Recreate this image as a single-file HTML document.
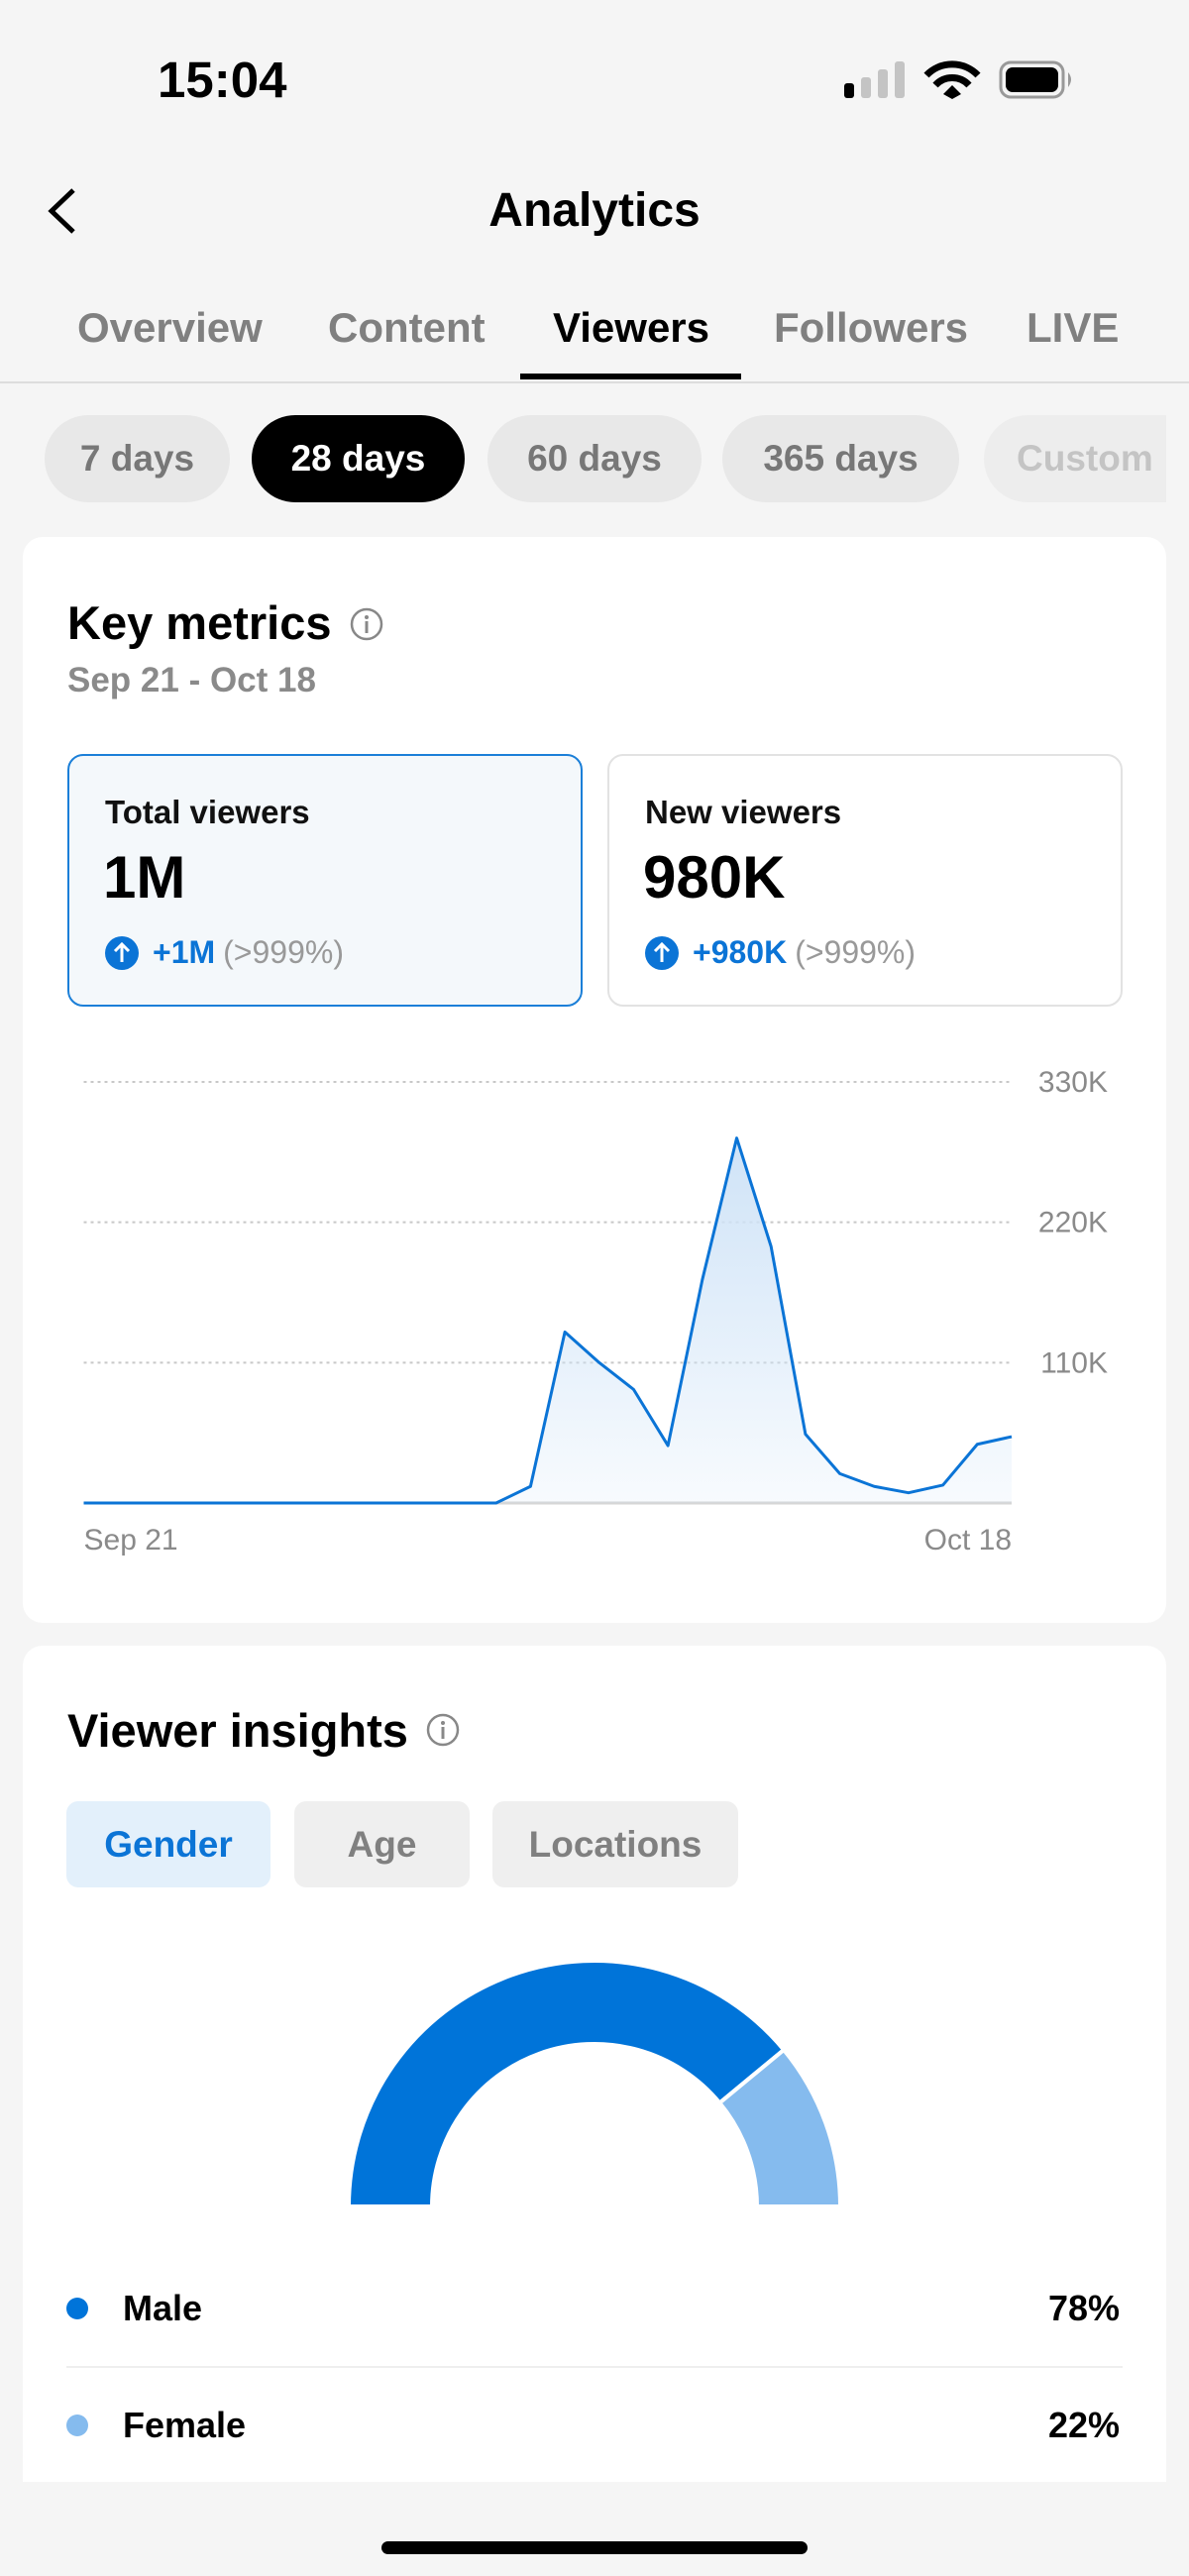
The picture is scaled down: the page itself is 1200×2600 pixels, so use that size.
<!DOCTYPE html>
<html><head><meta charset="utf-8">
<style>
*{box-sizing:border-box;margin:0;padding:0}
body{width:1200px;height:2600px;background:#f5f5f5;font-family:"Liberation Sans",sans-serif;position:relative;overflow:hidden;color:#000}
.abs{position:absolute}
.tab{position:absolute;top:307px;font-size:42px;font-weight:bold;color:#808080;white-space:nowrap}
.pill{position:absolute;top:419px;height:88px;border-radius:44px;background:#e8e8e8;color:#777;font-size:37px;font-weight:bold;display:flex;align-items:center;justify-content:center}
.card{position:absolute;background:#fff;border-radius:20px}
.mc{position:absolute;top:761px;height:255px;width:520px;border-radius:16px}
.mt{position:absolute;left:36px;top:38px;font-size:33px;font-weight:bold;color:#111}
.mv{position:absolute;left:34px;top:88px;font-size:60px;font-weight:bold}
.mch{position:absolute;left:36px;top:180px;font-size:32px;font-weight:bold;color:#0b74d6;display:flex;align-items:center}
.mch .g{color:#999;font-weight:normal;margin-left:8px}
.up{width:34px;height:34px;border-radius:50%;background:#0b74d6;margin-right:14px;position:relative}
.up svg{position:absolute;left:0;top:0}
.seg{position:absolute;top:1818px;height:87px;border-radius:12px;background:#efefef;color:#808080;font-size:37px;font-weight:bold;display:flex;align-items:center;justify-content:center}
.leg{position:absolute;font-size:36px;font-weight:bold}
</style></head><body>
<div class="abs" style="left:159px;top:51px;font-size:51px;font-weight:bold">15:04</div>
<svg class="abs" style="left:840px;top:55px" width="270" height="55" viewBox="840 55 270 55">
<rect x="852" y="84" width="10" height="15" rx="3" fill="#000"/>
<rect x="869" y="78" width="10" height="21" rx="3" fill="#c4c4c4"/>
<rect x="886" y="70" width="10" height="29" rx="3" fill="#c4c4c4"/>
<rect x="903" y="62" width="10" height="37" rx="3" fill="#c4c4c4"/>
<path d="M935 76 A36 36 0 0 1 987 76" stroke="#000" stroke-width="7" fill="none"/>
<path d="M944 86 A23 23 0 0 1 978 86" stroke="#000" stroke-width="7" fill="none"/>
<path d="M952 95 L961 86 L970 95 L961 100 Z" fill="#000"/>
<rect x="1010" y="63" width="63" height="35" rx="10" fill="none" stroke="#999" stroke-width="3"/>
<rect x="1015" y="68" width="53" height="25" rx="7" fill="#000"/>
<path d="M1078 73 Q1084 80 1078 88 Z" fill="#999"/>
</svg>
<svg class="abs" style="left:44px;top:188px" width="36" height="50"><path d="M30 4 L8 25 L30 46" stroke="#000" stroke-width="5" fill="none"/></svg>
<div class="abs" style="left:0;width:1200px;text-align:center;top:185px;font-size:48px;font-weight:bold">Analytics</div>
<div class="tab" style="left:78px">Overview</div>
<div class="tab" style="left:331px">Content</div>
<div class="tab" style="left:558px;color:#000">Viewers</div>
<div class="tab" style="left:781px">Followers</div>
<div class="tab" style="left:1036px">LIVE</div>
<div class="abs" style="left:525px;top:377px;width:223px;height:6px;background:#000"></div>
<div class="abs" style="left:0;top:385px;width:1200px;height:2px;background:#ddd"></div>
<div class="pill" style="left:45px;width:187px">7 days</div>
<div class="pill" style="left:254px;width:215px;background:#000;color:#fff">28 days</div>
<div class="pill" style="left:492px;width:216px">60 days</div>
<div class="pill" style="left:729px;width:239px">365 days</div>
<div class="pill" style="left:993px;width:184px;background:#ededed;color:#c4c4c4;justify-content:flex-start;padding-left:33px;border-radius:44px 0 0 44px;overflow:hidden;white-space:nowrap">Custom</div>

<div class="card" style="left:23px;top:542px;width:1154px;height:1096px"></div>
<div class="abs" style="left:68px;top:601px;font-size:47px;font-weight:bold">Key metrics</div>
<svg class="abs" style="left:352px;top:612px" width="36" height="36"><circle cx="18" cy="18" r="15" stroke="#888" stroke-width="2.5" fill="none"/><circle cx="18" cy="11" r="2" fill="#888"/><rect x="16.5" y="15" width="3" height="12" fill="#888"/></svg>
<div class="abs" style="left:68px;top:667px;font-size:35px;font-weight:bold;color:#8a8a8a">Sep 21 - Oct 18</div>

<div class="mc" style="left:68px;background:#f4f8fb;border:2px solid #1b7fd8">
<div class="mt">Total viewers</div><div class="mv">1M</div>
<div class="mch"><div class="up"><svg width="34" height="34"><path d="M17 26 V9 M10 15 L17 8 L24 15" stroke="#fff" stroke-width="3" fill="none"/></svg></div>+1M<span class="g">(&gt;999%)</span></div></div>
<div class="mc" style="left:613px;background:#fff;border:2px solid #e2e2e2">
<div class="mt">New viewers</div><div class="mv">980K</div>
<div class="mch"><div class="up"><svg width="34" height="34"><path d="M17 26 V9 M10 15 L17 8 L24 15" stroke="#fff" stroke-width="3" fill="none"/></svg></div>+980K<span class="g">(&gt;999%)</span></div></div>

<svg id="chart" class="abs" style="left:0;top:1040px" width="1200" height="550" viewBox="0 1040 1200 550">
<defs><linearGradient id="gf" x1="0" y1="0" x2="0" y2="1"><stop offset="0" stop-color="#cfe3f7"/><stop offset="1" stop-color="#cfe3f7" stop-opacity="0.15"/></linearGradient></defs>
</svg>

<div class="card" style="left:23px;top:1661px;width:1154px;height:844px;border-radius:20px 20px 0 0"></div>
<div class="abs" style="left:68px;top:1719px;font-size:47px;font-weight:bold">Viewer insights</div>
<svg class="abs" style="left:429px;top:1728px" width="36" height="36"><circle cx="18" cy="18" r="15" stroke="#888" stroke-width="2.5" fill="none"/><circle cx="18" cy="11" r="2" fill="#888"/><rect x="16.5" y="15" width="3" height="12" fill="#888"/></svg>
<div class="seg" style="left:67px;width:206px;background:#e3f0fb;color:#0b74d6">Gender</div>
<div class="seg" style="left:297px;width:177px">Age</div>
<div class="seg" style="left:497px;width:248px">Locations</div>
<svg id="donut" class="abs" style="left:0;top:1960px" width="1200" height="280" viewBox="0 1960 1200 280"></svg>

<div class="abs" style="left:67px;top:2319px;width:22px;height:22px;border-radius:50%;background:#0074d9"></div>
<div class="leg" style="left:124px;top:2309px">Male</div>
<div class="leg" style="right:70px;top:2309px">78%</div>
<div class="abs" style="left:67px;top:2388px;width:1066px;height:2px;background:#eee"></div>
<div class="abs" style="left:67px;top:2437px;width:22px;height:22px;border-radius:50%;background:#85bbee"></div>
<div class="leg" style="left:124px;top:2427px">Female</div>
<div class="leg" style="right:70px;top:2427px">22%</div>
<div class="abs" style="left:385px;top:2565px;width:430px;height:13px;border-radius:7px;background:#000"></div>

<script>
const days = ["Sep 21","Sep 22","Sep 23","Sep 24","Sep 25","Sep 26","Sep 27","Sep 28","Sep 29","Sep 30","Oct 1","Oct 2","Oct 3","Oct 4","Oct 5","Oct 6","Oct 7","Oct 8","Oct 9","Oct 10","Oct 11","Oct 12","Oct 13","Oct 14","Oct 15","Oct 16","Oct 17","Oct 18"];
const viewers = [0,0,0,0,0,0,0,0,0,0,0,0,0,13,134,110,89,45,175,286,201,54,23,13,8,14,46,52];
const yTicks = [110,220,330];
const yTickLabels = ["110K","220K","330K"];
const xLabels = ["Sep 21","Oct 18"];
const genderLabels = ["Male","Female"];
const genderShares = [78,22];
const genderColors = ["#0074d9","#85bbee"];

const NS="http://www.w3.org/2000/svg";
const svg=document.getElementById('chart');
const X0=84.5,X1=1021,Y0=1517,YT=1092,VMAX=330;
const xs=i=>X0+(X1-X0)*i/(days.length-1);
const ys=v=>Y0-(Y0-YT)*v/VMAX;
function mk(tag,attrs){const e=document.createElementNS(NS,tag);for(const k in attrs)e.setAttribute(k,attrs[k]);svg.appendChild(e);return e;}
yTicks.forEach((t,i)=>{
  const l=mk('line',{x1:X0,x2:X1,y1:ys(t),y2:ys(t),stroke:'#c8c8c8','stroke-width':2,'stroke-dasharray':'3 4'});
  
  
  const tx=mk('text',{x:1118,y:ys(t)+10,'text-anchor':'end','font-size':30,fill:'#8a8a8a','font-family':'Liberation Sans, sans-serif'});
  tx.textContent=yTickLabels[i];
  
  
});
const base=mk('line',{x1:X0,x2:X1,y1:Y0,y2:Y0,stroke:'#d6d6d6','stroke-width':3});


let pts=viewers.map((v,i)=>xs(i)+','+ys(v)).join(' ');
const area=mk('polygon',{points:X0+','+Y0+' '+pts+' '+X1+','+Y0,fill:'url(#gf)'});


const line=mk('polyline',{points:pts,fill:'none',stroke:'#0b74d6','stroke-width':3,'stroke-linejoin':'round'});


xLabels.forEach((lb,i)=>{
  const idx=days.indexOf(lb);
  const tx=mk('text',{x:xs(idx),y:1564,'text-anchor':i===0?'start':'end','font-size':30,fill:'#8a8a8a','font-family':'Liberation Sans, sans-serif'});
  tx.textContent=lb;
  
  
});

const dsvg=document.getElementById('donut');
const CX=600,CY=2227,RO=248,RI=164;
const total=genderShares.reduce((a,b)=>a+b,0);
let a0=Math.PI;
genderShares.forEach((s,i)=>{
  const a1=a0-Math.PI*s/total;
  const p=(r,a)=>(CX+r*Math.cos(a))+','+(CY-r*Math.sin(a));
  const d='M'+p(RO,a0)+' A'+RO+','+RO+' 0 0 1 '+p(RO,a1)+' L'+p(RI,a1)+' A'+RI+','+RI+' 0 0 0 '+p(RI,a0)+' Z';
  const e=document.createElementNS(NS,'path');
  e.setAttribute('d',d);e.setAttribute('fill',genderColors[i]);
  e.setAttribute('stroke','#fff');e.setAttribute('stroke-width','4');
  
  
  dsvg.appendChild(e);
  a0=a1;
});
</script>
</body></html>
